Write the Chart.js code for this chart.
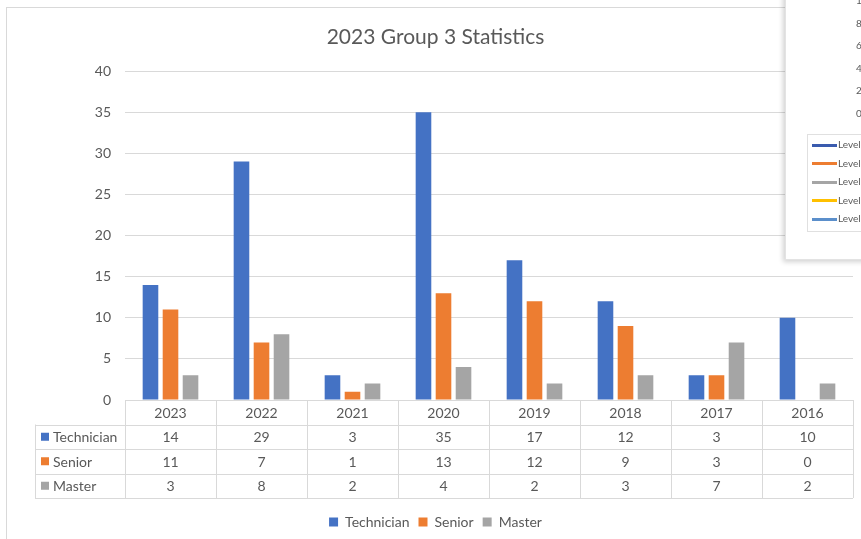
<!DOCTYPE html>
<html>
<head>
<meta charset="utf-8">
<script src="https://cdn.jsdelivr.net/npm/chart.js@4.4.0/dist/chart.umd.min.js"></script>
<style>
html, body { margin: 0; padding: 0; background: #fff; overflow: hidden; }
#wrap { position: relative; width: 861px; height: 539px; }
#inset {
    position: absolute; left: 785px; top: -10px; width: 110px; height: 268px;
    background: #fff; border: 1px solid #e3e3e3;
    box-shadow: -2px 2px 5px rgba(0, 0, 0, 0.18);
    font-family: Lato, sans-serif; color: #595959; font-size: 10px;
}
#inset .tick { position: absolute; left: 70px; }
#insetLegend {
    position: absolute; left: 21px; top: 143px; width: 80px; height: 96px;
    border: 1px solid #e0e0e0;
}
#insetLegend .row { position: absolute; left: 4px; height: 12px; line-height: 12px; white-space: nowrap; }
#insetLegend .line { display: inline-block; width: 25px; height: 3px; vertical-align: middle; margin-right: 1px; }
</style>
</head>
<body>
<div id="wrap">
    <canvas id="statsChart" width="861" height="539"></canvas>
    <div id="inset">
        <div id="insetLegend"></div>
    </div>
</div>
<script>
// 数据
const categories = ['2023', '2022', '2021', '2020', '2019', '2018', '2017', '2016'];
const technician = [14, 29, 3, 35, 17, 12, 3, 10];
const senior = [11, 7, 1, 13, 12, 9, 3, 0];
const master = [3, 8, 2, 4, 2, 3, 7, 2];
const seriesNames = ['Technician', 'Senior', 'Master'];
const seriesColors = ['#4472C4', '#ED7D31', '#A5A5A5'];
const yTicks = [0, 5, 10, 15, 20, 25, 30, 35, 40];

// 右上角被遮挡的另一张图
const insetTicks = ['10', '8', '6', '4', '2', '0'];
const insetLegend = ['Level', 'Level', 'Level', 'Level', 'Level'];
const insetColors = ['#3A5BAE', '#ED7D31', '#A5A5A5', '#FFC000', '#5B8FCB'];

const inset = document.getElementById('inset');
insetTicks.forEach((t, i) => {
    const el = document.createElement('div');
    el.className = 'tick';
    el.style.top = (3 + i * 22.6) + 'px';
    el.textContent = t;
    inset.appendChild(el);
});
const legendBox = document.getElementById('insetLegend');
insetLegend.forEach((t, i) => {
    const row = document.createElement('div');
    row.className = 'row';
    row.style.top = (3 + i * 18.5) + 'px';
    row.innerHTML = '<span class="line" style="background:' + insetColors[i] + '"></span>' + t;
    legendBox.appendChild(row);
});

const FONT = 'Lato, "Open Sans", sans-serif';
const TEXT = '#595959';
const GRID = '#D9D9D9';

// 边框
const framePlugin = {
    id: 'frame',
    beforeDraw(chart) {
        const ctx = chart.ctx;
        ctx.save();
        ctx.strokeStyle = GRID;
        ctx.lineWidth = 1;
        ctx.strokeRect(6.5, 7.5, 900, 600);
        ctx.restore();
    }
};

// 数据表
const tablePlugin = {
    id: 'dataTable',
    afterDraw(chart) {
        const ctx = chart.ctx;
        const x = chart.scales.x;
        const top = chart.chartArea.bottom;
        const rowH = 24.5;
        const labelLeft = 35;
        const n = categories.length;
        const edges = [x.left];
        for (let i = 1; i < n; i++) {
            edges.push((x.getPixelForValue(i - 1) + x.getPixelForValue(i)) / 2);
        }
        edges.push(x.right);

        ctx.save();
        ctx.strokeStyle = GRID;
        ctx.lineWidth = 1;
        ctx.beginPath();
        for (let r = 0; r <= 4; r++) {
            const y = Math.round(top + r * rowH) + 0.5;
            ctx.moveTo(r === 0 ? x.left : labelLeft, y);
            ctx.lineTo(x.right, y);
        }
        ctx.moveTo(labelLeft + 0.5, top + rowH);
        ctx.lineTo(labelLeft + 0.5, top + 4 * rowH);
        edges.forEach(e => {
            const xx = Math.round(e) + 0.5;
            ctx.moveTo(xx, top);
            ctx.lineTo(xx, top + 4 * rowH);
        });
        ctx.stroke();

        ctx.font = '14px ' + FONT;
        ctx.fillStyle = TEXT;
        ctx.textAlign = 'center';
        ctx.textBaseline = 'middle';
        categories.forEach((c, i) => {
            ctx.fillText(c, x.getPixelForValue(i), top + rowH / 2 + 1);
        });
        chart.data.datasets.forEach((ds, j) => {
            const cy = top + (j + 1.5) * rowH + 1;
            ctx.fillStyle = ds.backgroundColor;
            ctx.fillRect(labelLeft + 6, cy - 5, 8, 8);
            ctx.fillStyle = TEXT;
            ctx.textAlign = 'left';
            ctx.fillText(ds.label, labelLeft + 18, cy);
            ctx.textAlign = 'center';
            ds.data.forEach((v, i) => {
                ctx.fillText(String(v), x.getPixelForValue(i), cy);
            });
        });
        ctx.restore();
    }
};

const ctx = document.getElementById('statsChart').getContext('2d');
const statsChart = new Chart(ctx, {
    type: 'bar',
    data: {
        labels: categories,
        datasets: [technician, senior, master].map((d, i) => ({
            label: seriesNames[i],
            data: d,
            backgroundColor: seriesColors[i],
            categoryPercentage: 0.66,
            barPercentage: 0.78
        }))
    },
    options: {
        responsive: false,
        animation: false,
        layout: { padding: { top: 15, right: 8, bottom: 0, left: 18 } },
        plugins: {
            title: {
                display: true,
                text: '2023 Group 3 Statistics',
                color: TEXT,
                font: { family: FONT, size: 21, weight: 'normal' },
                padding: { top: 10, bottom: 21 }
            },
            legend: {
                position: 'bottom',
                labels: {
                    color: TEXT,
                    font: { family: FONT, size: 14 },
                    boxWidth: 9,
                    boxHeight: 9,
                    padding: 9
                }
            },
            tooltip: { enabled: false }
        },
        scales: {
            x: {
                grid: { display: false },
                border: { display: false },
                ticks: { display: false },
                afterFit(s) { s.height = 106; }
            },
            y: {
                min: yTicks[0],
                max: yTicks[yTicks.length - 1],
                afterBuildTicks(s) { s.ticks = yTicks.map(v => ({ value: v })); },
                grid: { color: GRID, drawTicks: false },
                border: { display: false },
                ticks: { color: TEXT, font: { family: FONT, size: 14 }, padding: 14 },
                afterFit(s) { s.width = 107; }
            }
        }
    },
    plugins: [framePlugin, tablePlugin]
});
</script>
</body>
</html>
